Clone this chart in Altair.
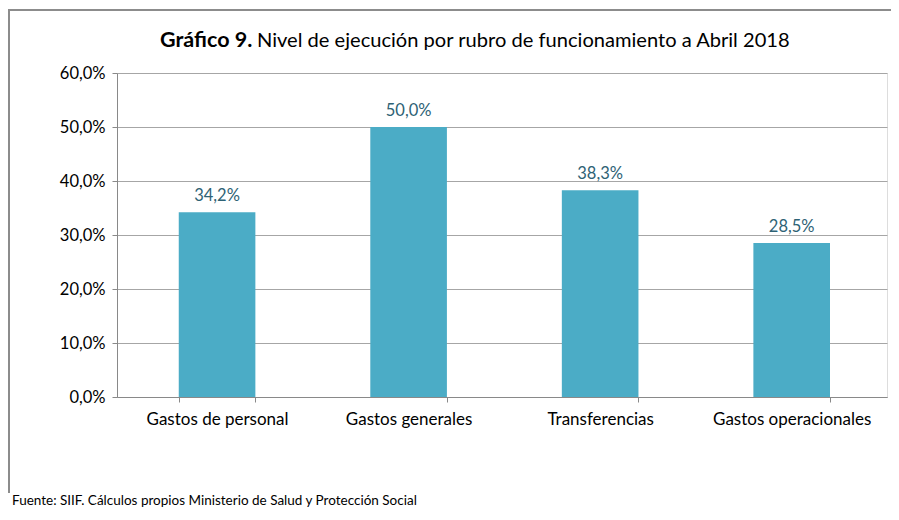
import altair as alt
import pandas as pd

categories = ["Gastos de personal", "Gastos generales", "Transferencias", "Gastos operacionales"]
values = [0.342, 0.500, 0.383, 0.285]
labels = ["34,2%", "50,0%", "38,3%", "28,5%"]

df = pd.DataFrame({"cat": categories, "val": values, "lab": labels})

FONT = "Lato"
W, H = 770, 324

x_enc = alt.X("cat:N", sort=categories, title=None,
              scale=alt.Scale(paddingInner=0.6, paddingOuter=0.31, align=0.52),
              axis=alt.Axis(labelAngle=0, labelFont=FONT, labelFontSize=17, labelColor="#000000",
                            labelPadding=9, tickBand="extent", tickSize=5, tickColor="#898989",
                            domainColor="#898989", grid=False))
y_enc = alt.Y("val:Q", title=None,
              scale=alt.Scale(domain=[0, 0.6]),
              axis=alt.Axis(values=[0, 0.1, 0.2, 0.3, 0.4, 0.5, 0.6],
                            labelExpr="replace(format(datum.value, '.1%'), '.', ',')",
                            labelFont=FONT, labelFontSize=16.5, labelColor="#000000",
                            labelPadding=7, tickSize=5, tickColor="#898989",
                            domainColor="#898989", gridColor="#A6A6A6", gridWidth=1))

bars = alt.Chart(df).mark_bar(color="#4BACC6").encode(x=x_enc, y=y_enc)

text = alt.Chart(df).mark_text(font=FONT, fontSize=16.5, color="#2E6275", dy=-16).encode(
    x=alt.X("cat:N", sort=categories), y="val:Q", text="lab:N")

one = pd.DataFrame({"a": [0]})
border_top = alt.Chart(one).mark_rule(stroke="#8C8C8C", strokeWidth=2, clip=False).encode(
    x=alt.value(-108), x2=alt.value(W + 80), y=alt.value(-63))
border_left = alt.Chart(one).mark_rule(stroke="#8C8C8C", strokeWidth=2, clip=False).encode(
    x=alt.value(-108), y=alt.value(-64), y2=alt.value(420))

title_bold = alt.Chart(pd.DataFrame({"t": ["Gráfico 9."]})).mark_text(
    font=FONT, fontSize=21.5, fontWeight="bold", align="left", baseline="alphabetic").encode(
    x=alt.value(43), y=alt.value(-26), text="t:N")
title_rest = alt.Chart(pd.DataFrame({"t": ["Nivel de ejecución por rubro de funcionamiento a Abril 2018"]})).mark_text(
    font=FONT, fontSize=20.1, align="left", baseline="alphabetic").encode(
    x=alt.value(140), y=alt.value(-26), text="t:N")
footer = alt.Chart(pd.DataFrame({"t": ["Fuente: SIIF. Cálculos propios Ministerio de Salud y Protección Social"]})).mark_text(
    font=FONT, fontSize=13.5, align="left", baseline="middle").encode(
    x=alt.value(-105), y=alt.value(428), text="t:N")

chart = alt.layer(border_top, border_left, bars, text, title_bold, title_rest, footer).properties(
    width=W, height=H,
    autosize=alt.AutoSizeParams(type="none"),
    padding={"left": 109, "top": 65, "right": 4, "bottom": 115},
).configure_view(stroke=None).configure(background="white")

chart.save("out.html", embed_options={"renderer": "svg", "actions": False})
